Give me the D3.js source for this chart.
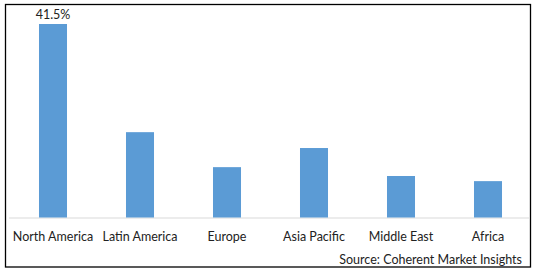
<!DOCTYPE html>
<html>
<head>
<meta charset="utf-8">
<script src="https://cdn.jsdelivr.net/npm/d3@7"></script>
<style>
html,body{margin:0;padding:0;background:#fff;}
svg{display:block;}
text{font-family:"Lato","Open Sans",sans-serif;fill:#222;}
</style>
</head>
<body>
<svg id="chart" width="538" height="272"></svg>
<script>
const categories = ["North America","Latin America","Europe","Asia Pacific","Middle East","Africa"];
const shares = [41.5, 18.3, 10.8, 14.9, 8.9, 7.8];
const labelledIndex = 0;
const sourceText = "Source: Coherent Market Insights";

const svg = d3.select("#chart");
const W = 538, H = 272;

svg.append("rect")
  .attr("x", 5.5).attr("y", 4.5).attr("width", 525).attr("height", 262.5)
  .attr("fill", "#fff").attr("stroke", "#000").attr("stroke-width", 1.3);

const x = d3.scaleBand().domain(categories).range([9.5, 531.5])
  .paddingInner(0.678).paddingOuter(0.339);
const y = d3.scaleLinear().domain([0, 41.5]).range([217.5, 24]);

svg.append("line")
  .attr("x1", 9).attr("x2", 530).attr("y1", 218).attr("y2", 218)
  .attr("stroke", "#d9d9d9").attr("stroke-width", 1);

svg.selectAll("rect.bar").data(shares).join("rect")
  .attr("class", "bar")
  .attr("x", (d, i) => x(categories[i]))
  .attr("y", d => y(d))
  .attr("width", x.bandwidth())
  .attr("height", d => y(0) - y(d))
  .attr("fill", "#5b9bd5");

svg.selectAll("text.cat").data(categories).join("text")
  .attr("class", "cat")
  .attr("x", d => x(d) + x.bandwidth() / 2)
  .attr("y", 241)
  .attr("text-anchor", "middle")
  .attr("font-size", 12.5)
  .text(d => d);

svg.append("text")
  .attr("x", x(categories[labelledIndex]) + x.bandwidth() / 2)
  .attr("y", 19)
  .attr("text-anchor", "middle")
  .attr("font-size", 12.5)
  .text(shares[labelledIndex] + "%");

svg.append("text")
  .attr("x", 522).attr("y", 264)
  .attr("text-anchor", "end")
  .attr("font-size", 12.5)
  .text(sourceText);
</script>
</body>
</html>
